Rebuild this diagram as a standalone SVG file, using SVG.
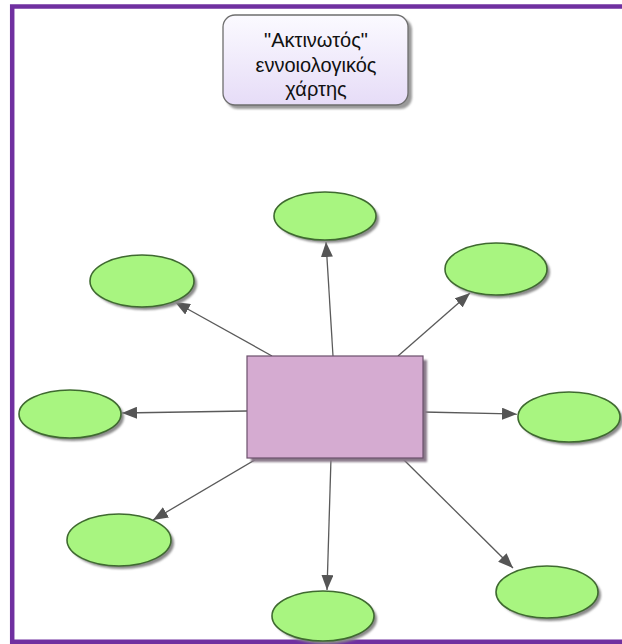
<svg xmlns="http://www.w3.org/2000/svg" width="622" height="644" viewBox="0 0 622 644">
<defs>
<linearGradient id="tg" x1="0" y1="0" x2="0" y2="1">
<stop offset="0" stop-color="#fbfaff"/>
<stop offset="1" stop-color="#e6dcf7"/>
</linearGradient>
<marker id="ah" markerWidth="16" markerHeight="12" refX="15" refY="6" orient="auto" markerUnits="userSpaceOnUse">
<path d="M0,0 L15,6 L0,12 Z" fill="#555555"/>
</marker>
<filter id="sh" x="-20%" y="-20%" width="150%" height="150%">
<feGaussianBlur stdDeviation="1.2"/>
</filter>
</defs>
<style>
.frame{fill:none;stroke:#7030a0;stroke-width:4.5}
.conn{stroke:#5a5a5a;stroke-width:1.3;fill:none;marker-end:url(#ah)}
.ell{fill:#a8f580;stroke:#3f6a30;stroke-width:1.6}
.esh{fill:#8a8a8a;filter:url(#sh)}
.title{font-family:"Liberation Sans",Arial,sans-serif;font-size:20px;fill:#111;text-anchor:middle}
</style>
<rect x="0" y="0" width="622" height="644" fill="#ffffff"/>
<path class="frame" d="M12.2,644 V6.5 H622"/>
<line x1="12" y1="641.8" x2="622" y2="641.8" stroke="#7030a0" stroke-width="4.5"/>

<g id="title">
<rect x="226" y="18" width="186" height="91" rx="12" fill="#9a9a9a" filter="url(#sh)"/>
<rect x="223" y="15" width="185" height="90" rx="12" fill="url(#tg)" stroke="#6e6e6e" stroke-width="1.3"/>
<text class="title" x="316" y="47">"Ακτινωτός"</text>
<text class="title" x="316" y="72">εννοιολογικός</text>
<text class="title" x="316" y="96">χάρτης</text>
</g>

<g id="connectors">
<line class="conn" x1="333" y1="356" x2="326" y2="242"/>
<line class="conn" x1="272" y1="356" x2="175" y2="302"/>
<line class="conn" x1="398" y1="356" x2="470" y2="293"/>
<line class="conn" x1="247" y1="411" x2="122" y2="413"/>
<line class="conn" x1="423" y1="412" x2="517" y2="414"/>
<line class="conn" x1="258" y1="458" x2="153" y2="520"/>
<line class="conn" x1="331" y1="458" x2="327" y2="590"/>
<line class="conn" x1="402" y1="458" x2="513" y2="568"/>
</g>

<g id="center">
<rect x="251" y="360" width="176" height="102" fill="#8a7a8a" filter="url(#sh)"/>
<rect x="247" y="356" width="176" height="102" fill="#d5abd1" stroke="#6b506b" stroke-width="1.2"/>
</g>

<g id="n-top">
<ellipse class="esh" cx="328" cy="219" rx="51" ry="24"/>
<ellipse class="ell" cx="325" cy="216" rx="51" ry="24"/>
</g>
<g id="n-topleft">
<ellipse class="esh" cx="145" cy="284" rx="52" ry="26"/>
<ellipse class="ell" cx="142" cy="281" rx="52" ry="26"/>
</g>
<g id="n-topright">
<ellipse class="esh" cx="499" cy="272" rx="51" ry="26"/>
<ellipse class="ell" cx="496" cy="269" rx="51" ry="26"/>
</g>
<g id="n-left">
<ellipse class="esh" cx="73" cy="417" rx="51" ry="24"/>
<ellipse class="ell" cx="70" cy="414" rx="51" ry="24"/>
</g>
<g id="n-right">
<ellipse class="esh" cx="572" cy="420" rx="51" ry="25"/>
<ellipse class="ell" cx="569" cy="417" rx="51" ry="25"/>
</g>
<g id="n-bottomleft">
<ellipse class="esh" cx="122" cy="543" rx="52" ry="26"/>
<ellipse class="ell" cx="119" cy="540" rx="52" ry="26"/>
</g>
<g id="n-bottom">
<ellipse class="esh" cx="326" cy="619" rx="51" ry="25"/>
<ellipse class="ell" cx="323" cy="616" rx="51" ry="25"/>
</g>
<g id="n-bottomright">
<ellipse class="esh" cx="550" cy="595" rx="51" ry="26"/>
<ellipse class="ell" cx="547" cy="592" rx="51" ry="26"/>
</g>
</svg>
